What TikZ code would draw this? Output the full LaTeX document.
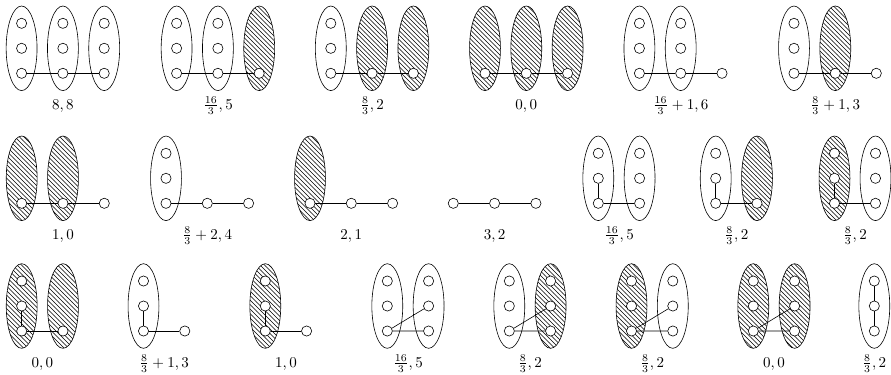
\documentclass[tikz,border=0pt]{standalone}
\usepackage{amsmath}
\usepackage{tikz}
\usetikzlibrary{shapes.geometric, patterns, calc}
\tikzset{
  part/.style  ={ellipse, draw, minimum width=20.6pt, minimum height=56.4pt, inner sep=0pt},
  parth/.style ={part, pattern=north west lines},
  vx/.style    ={circle, draw, fill=white, minimum size=6.8pt, inner sep=0pt},
  lbl/.style   ={anchor=base},
}
% vertices inside a part
\newcommand{\vtrio}[1]{%
  \node[vx] (#1t) at ($(#1)+(0,-25)$) {};
  \node[vx] (#1m) at (#1) {};
  \node[vx] (#1b) at ($(#1)+(0,25)$) {};}
\newcommand{\vbot}[1]{\node[vx] (#1b) at ($(#1)+(0,25)$) {};}

\begin{document}
\begin{tikzpicture}[x=0.6667pt, y=-0.6667pt]
\useasboundingbox (0,0) rectangle (891,374);

% ---- first row
\node[part] (a1) at (21.6,48.3) {};  \vtrio{a1}
\node[part] (a2) at (62.9,48.3) {};  \vtrio{a2}
\node[part] (a3) at (104.2,48.3) {}; \vtrio{a3}
\draw (a1b)--(a2b)--(a3b);
\node[lbl] (la) at (62.9,109.5) {$8,8$};

\node[part]  (b1) at (176.6,48.3) {}; \vtrio{b1}
\node[part]  (b2) at (217.9,48.3) {}; \vtrio{b2}
\node[parth] (b3) at (259.2,48.3) {}; \vbot{b3}
\draw (b1b)--(b2b)--(b3b);
\node[lbl] (lb) at (217.9,109.5) {$\frac{16}{3},5$};

\node[part]  (c1) at (330.8,48.3) {}; \vtrio{c1}
\node[parth] (c2) at (372.1,48.3) {}; \vbot{c2}
\node[parth] (c3) at (413.4,48.3) {}; \vbot{c3}
\draw (c1b)--(c2b)--(c3b);
\node[lbl] (lc) at (372.1,109.5) {$\frac{8}{3},2$};

\node[parth] (d1) at (485.0,48.3) {}; \vbot{d1}
\node[parth] (d2) at (526.3,48.3) {}; \vbot{d2}
\node[parth] (d3) at (567.6,48.3) {}; \vbot{d3}
\draw (d1b)--(d2b)--(d3b);
\node[lbl] (ld) at (526.3,109.5) {$0,0$};

\node[part] (e1) at (639.4,48.3) {}; \vtrio{e1}
\node[part] (e2) at (680.7,48.3) {}; \vtrio{e2}
\node[vx]   (ex) at (722.0,73.3) {};
\draw (e1b)--(e2b)--(ex);
\node[lbl] (le) at (680.7,109.5) {$\frac{16}{3}+1,6$};

\node[part]  (f1) at (794.0,48.3) {}; \vtrio{f1}
\node[parth] (f2) at (835.3,48.3) {}; \vbot{f2}
\node[vx]    (fx) at (876.3,73.3) {};
\draw (f1b)--(f2b)--(fx);
\node[lbl] (lf) at (835.3,109.5) {$\frac{8}{3}+1,3$};

% ---- second row
\node[parth] (g1) at (21.7,178.3) {}; \vbot{g1}
\node[parth] (g2) at (63.0,178.3) {}; \vbot{g2}
\node[vx]    (gx) at (104.3,203.3) {};
\draw (g1b)--(g2b)--(gx);
\node[lbl] (lg) at (63.0,239.5) {$1,0$};

\node[part] (h1) at (166.0,178.3) {}; \vtrio{h1}
\node[vx]   (hx) at (207.3,203.3) {};
\node[vx]   (hy) at (248.6,203.3) {};
\draw (h1b)--(hx)--(hy);
\node[lbl] (lh) at (207.3,239.5) {$\frac{8}{3}+2,4$};

\node[parth] (i1) at (310.0,178.3) {}; \vbot{i1}
\node[vx]    (ix) at (351.3,203.3) {};
\node[vx]    (iy) at (392.6,203.3) {};
\draw (i1b)--(ix)--(iy);
\node[lbl] (li) at (351.3,239.5) {$2,1$};

\node[vx] (jx) at (453.3,203.3) {};
\node[vx] (jy) at (494.6,203.3) {};
\node[vx] (jz) at (535.9,203.3) {};
\draw (jx)--(jy)--(jz);
\node[lbl] (lj) at (494.6,239.5) {$3,2$};

\node[part] (k1) at (598.3,178.3) {}; \vtrio{k1}
\node[part] (k2) at (639.6,178.3) {}; \vtrio{k2}
\draw (k1m)--(k1b)--(k2b);
\node[lbl] (lk) at (619.0,239.5) {$\frac{16}{3},5$};

\node[part]  (l1) at (715.7,178.3) {}; \vtrio{l1}
\node[parth] (l2) at (757.0,178.3) {}; \vbot{l2}
\draw (l1m)--(l1b)--(l2b);
\node[lbl] (ll) at (736.4,239.5) {$\frac{8}{3},2$};

\node[parth] (m1) at (834.5,178.3) {}; \vtrio{m1}
\node[part]  (m2) at (875.5,178.3) {}; \vtrio{m2}
\draw (m1m)--(m1b)--(m2b);
\node[lbl] (lm) at (855.0,239.5) {$\frac{8}{3},2$};

% ---- third row
\node[parth] (n1) at (21.7,306) {}; \vtrio{n1}
\node[parth] (n2) at (63.0,306) {}; \vbot{n2}
\draw (n1m)--(n1b)--(n2b);
\node[lbl] (ln) at (42.4,367) {$0,0$};

\node[part] (o1) at (143.5,306) {}; \vtrio{o1}
\node[vx]   (ox) at (184.8,331) {};
\draw (o1m)--(o1b)--(ox);
\node[lbl] (lo) at (164.2,367) {$\frac{8}{3}+1,3$};

\node[parth] (p1) at (265.3,306) {}; \vtrio{p1}
\node[vx]    (px) at (306.6,331) {};
\draw (p1m)--(p1b)--(px);
\node[lbl] (lp) at (286.0,367) {$1,0$};

\node[part] (q1) at (387.3,306) {}; \vtrio{q1}
\node[part] (q2) at (428.6,306) {}; \vtrio{q2}
\draw (q1b)--(q2m) (q1b)--(q2b);
\node[lbl] (lq) at (408.0,367) {$\frac{16}{3},5$};

\node[part]  (r1) at (509.3,306) {}; \vtrio{r1}
\node[parth] (r2) at (550.6,306) {}; \vtrio{r2}
\draw (r1b)--(r2m) (r1b)--(r2b);
\node[lbl] (lr) at (530.0,367) {$\frac{8}{3},2$};

\node[parth] (s1) at (631.5,306) {}; \vtrio{s1}
\node[part]  (s2) at (672.8,306) {}; \vtrio{s2}
\draw (s1b)--(s2m) (s1b)--(s2b);
\node[lbl] (ls) at (652.2,367) {$\frac{8}{3},2$};

\node[parth] (t1) at (753.3,306) {}; \vtrio{t1}
\node[parth] (t2) at (794.6,306) {}; \vtrio{t2}
\draw (t1b)--(t2m) (t1b)--(t2b);
\node[lbl] (lt) at (774.0,367) {$0,0$};

\node[part] (u1) at (874.3,306) {}; \vtrio{u1}
\draw (u1t)--(u1m)--(u1b);
\node[lbl] (lu) at (874.3,367) {$\frac{8}{3},2$};
\end{tikzpicture}
\end{document}
